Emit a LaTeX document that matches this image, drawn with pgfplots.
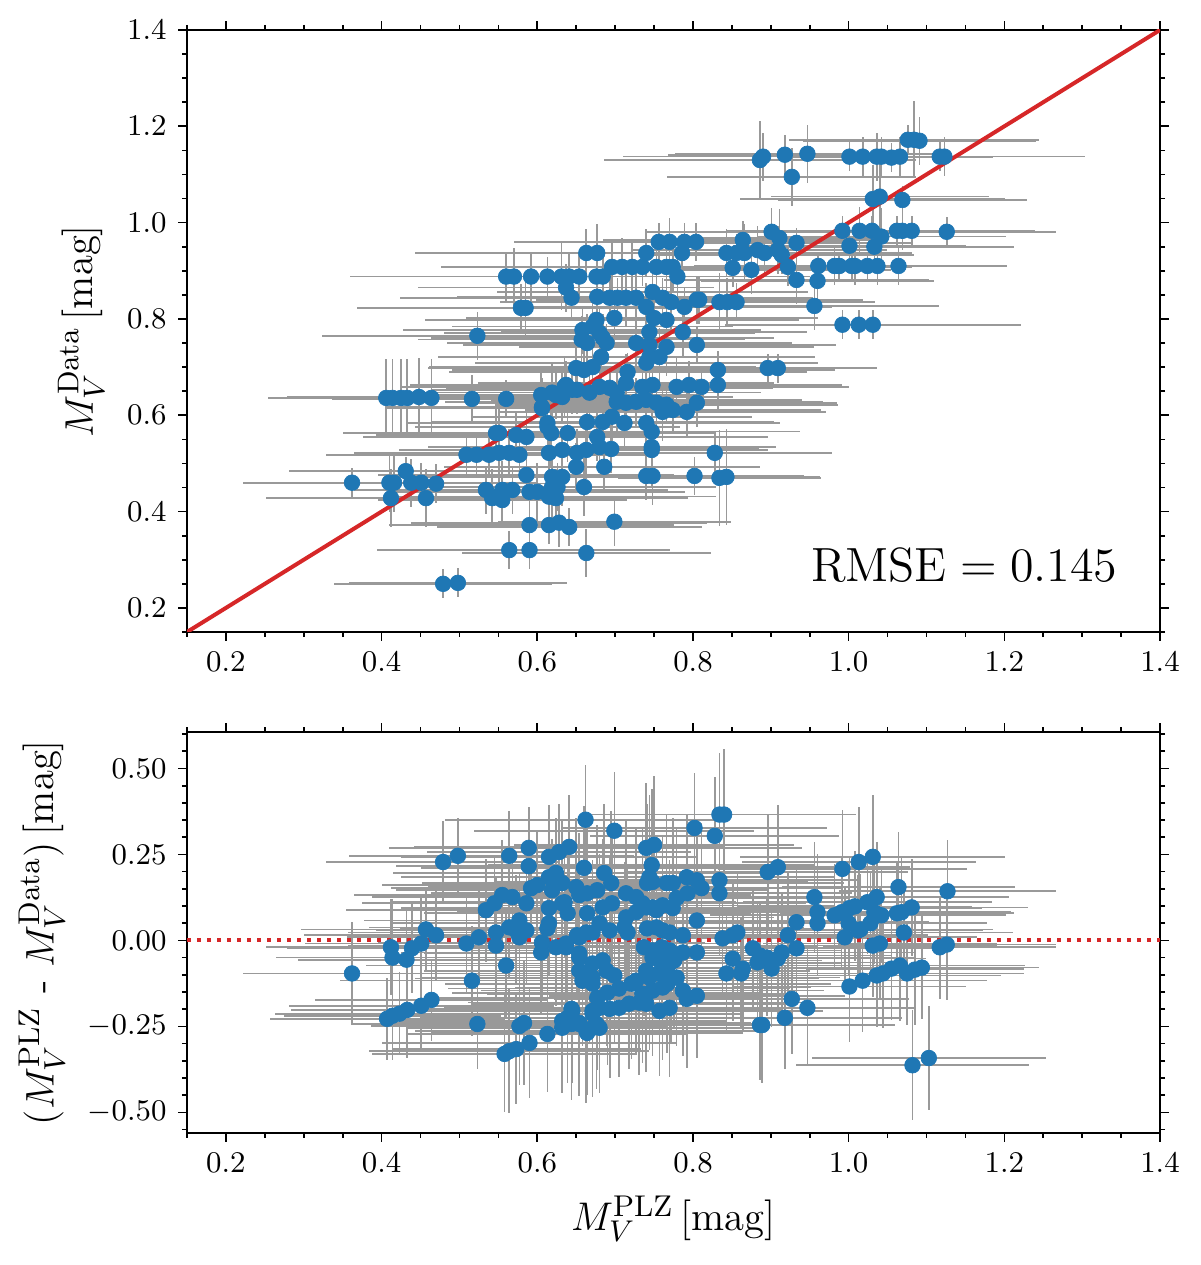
\documentclass[border=0pt]{standalone}
\usepackage{pgfplots}
\pgfplotsset{compat=1.18}
\usepackage{pgfplotstable}
\definecolor{mplblue}{HTML}{1F77B4}
\definecolor{mplred}{HTML}{D62728}
\definecolor{errgray}{HTML}{999999}

\pgfplotstableread{
x y ex ey
1.076 1.172 0.14 0.03
1.084 1.172 0.16 0.08
1.091 1.170 0.15 0.05
0.886 1.130 0.20 0.08
0.890 1.137 0.18 0.05
0.918 1.141 0.15 0.04
0.947 1.143 0.17 0.06
1.001 1.137 0.14 0.03
1.018 1.137 0.16 0.04
1.036 1.137 0.19 0.05
1.042 1.137 0.15 0.04
1.055 1.135 0.13 0.03
1.066 1.137 0.17 0.04
1.117 1.137 0.15 0.03
1.123 1.137 0.18 0.04
0.927 1.095 0.16 0.06
1.031 1.049 0.17 0.07
1.040 1.054 0.14 0.09
1.069 1.047 0.16 0.03
0.992 0.983 0.15 0.03
1.014 0.983 0.13 0.05
1.030 0.983 0.18 0.03
1.042 0.971 0.16 0.06
1.062 0.983 0.14 0.03
1.069 0.983 0.17 0.04
1.081 0.983 0.15 0.03
1.126 0.981 0.14 0.03
1.001 0.952 0.15 0.03
1.033 0.950 0.18 0.04
0.961 0.910 0.16 0.03
0.982 0.910 0.14 0.04
0.988 0.910 0.17 0.03
1.004 0.910 0.15 0.03
1.008 0.910 0.13 0.04
1.024 0.910 0.16 0.03
1.037 0.910 0.12 0.04
1.064 0.910 0.14 0.04
0.960 0.879 0.15 0.06
0.933 0.881 0.17 0.05
0.956 0.827 0.16 0.05
0.992 0.788 0.15 0.03
1.013 0.788 0.14 0.03
1.031 0.788 0.19 0.03
0.896 0.698 0.14 0.03
0.909 0.698 0.12 0.03
0.901 0.981 0.16 0.05
0.911 0.968 0.13 0.06
0.864 0.964 0.18 0.04
0.843 0.937 0.20 0.05
0.856 0.937 0.17 0.04
0.866 0.937 0.15 0.06
0.883 0.943 0.16 0.05
0.892 0.937 0.19 0.05
0.909 0.943 0.14 0.05
0.914 0.933 0.17 0.04
0.933 0.958 0.15 0.03
0.851 0.906 0.14 0.04
0.875 0.902 0.18 0.05
0.922 0.908 0.16 0.04
0.808 0.840 0.21 0.05
0.834 0.835 0.17 0.06
0.844 0.835 0.19 0.05
0.856 0.835 0.15 0.04
0.756 0.960 0.18 0.04
0.770 0.960 0.20 0.05
0.789 0.960 0.16 0.04
0.804 0.960 0.19 0.04
0.663 0.937 0.22 0.05
0.677 0.937 0.18 0.06
0.740 0.937 0.21 0.05
0.786 0.937 0.17 0.04
0.560 0.888 0.20 0.05
0.570 0.888 0.16 0.06
0.592 0.888 0.18 0.05
0.613 0.888 0.21 0.04
0.631 0.888 0.17 0.07
0.641 0.888 0.19 0.05
0.654 0.888 0.23 0.05
0.676 0.888 0.18 0.06
0.684 0.888 0.20 0.04
0.780 0.888 0.17 0.05
0.696 0.908 0.22 0.05
0.709 0.908 0.19 0.06
0.722 0.908 0.24 0.05
0.735 0.908 0.18 0.04
0.753 0.908 0.21 0.05
0.766 0.908 0.17 0.06
0.774 0.908 0.20 0.05
0.637 0.865 0.19 0.05
0.644 0.844 0.22 0.04
0.677 0.846 0.18 0.06
0.693 0.844 0.21 0.05
0.703 0.844 0.17 0.04
0.714 0.844 0.24 0.06
0.727 0.844 0.19 0.05
0.748 0.856 0.20 0.05
0.761 0.844 0.18 0.04
0.772 0.835 0.22 0.06
0.740 0.825 0.16 0.05
0.789 0.825 0.19 0.04
0.805 0.840 0.17 0.05
0.579 0.823 0.21 0.05
0.585 0.823 0.18 0.06
0.676 0.798 0.22 0.05
0.699 0.802 0.19 0.05
0.750 0.802 0.21 0.06
0.766 0.798 0.17 0.04
0.523 0.765 0.20 0.05
0.658 0.777 0.23 0.05
0.671 0.784 0.18 0.06
0.680 0.771 0.20 0.05
0.744 0.773 0.19 0.04
0.787 0.773 0.16 0.05
0.657 0.757 0.21 0.05
0.664 0.750 0.18 0.06
0.684 0.761 0.22 0.05
0.689 0.750 0.17 0.04
0.727 0.750 0.20 0.05
0.744 0.746 0.24 0.05
0.766 0.742 0.19 0.06
0.805 0.746 0.16 0.04
0.682 0.721 0.21 0.05
0.744 0.721 0.18 0.05
0.757 0.721 0.20 0.06
0.740 0.709 0.22 0.05
0.650 0.698 0.19 0.05
0.660 0.694 0.17 0.06
0.671 0.700 0.21 0.05
0.716 0.690 0.23 0.04
0.714 0.667 0.19 0.06
0.832 0.694 0.15 0.04
0.637 0.663 0.20 0.05
0.651 0.653 0.18 0.05
0.667 0.647 0.22 0.06
0.680 0.659 0.19 0.05
0.693 0.657 0.21 0.04
0.702 0.647 0.17 0.05
0.605 0.642 0.20 0.05
0.619 0.647 0.18 0.06
0.632 0.638 0.22 0.05
0.560 0.634 0.19 0.04
0.735 0.659 0.21 0.05
0.748 0.663 0.18 0.05
0.779 0.659 0.20 0.06
0.795 0.663 0.17 0.05
0.811 0.659 0.19 0.04
0.832 0.663 0.16 0.05
0.702 0.628 0.22 0.06
0.714 0.626 0.19 0.05
0.727 0.628 0.24 0.05
0.740 0.632 0.20 0.06
0.753 0.626 0.18 0.05
0.766 0.622 0.22 0.04
0.774 0.611 0.19 0.05
0.761 0.607 0.21 0.06
0.792 0.607 0.17 0.05
0.805 0.626 0.18 0.05
0.606 0.617 0.20 0.06
0.613 0.584 0.18 0.05
0.618 0.563 0.21 0.07
0.664 0.586 0.19 0.05
0.684 0.586 0.22 0.06
0.696 0.597 0.18 0.05
0.712 0.584 0.20 0.05
0.740 0.584 0.17 0.06
0.747 0.566 0.19 0.08
0.747 0.534 0.16 0.08
0.747 0.528 0.15 0.06
0.551 0.563 0.20 0.06
0.573 0.559 0.18 0.05
0.586 0.555 0.21 0.05
0.639 0.563 0.19 0.06
0.677 0.555 0.22 0.05
0.551 0.522 0.18 0.06
0.564 0.522 0.20 0.05
0.577 0.518 0.17 0.05
0.615 0.522 0.19 0.06
0.632 0.528 0.21 0.05
0.651 0.522 0.18 0.05
0.663 0.528 0.20 0.06
0.680 0.534 0.22 0.05
0.695 0.530 0.19 0.05
0.650 0.493 0.17 0.05
0.686 0.493 0.20 0.05
0.828 0.522 0.15 0.04
0.586 0.476 0.19 0.05
0.619 0.472 0.18 0.05
0.632 0.472 0.21 0.06
0.740 0.474 0.17 0.05
0.748 0.474 0.15 0.06
0.802 0.474 0.14 0.04
0.834 0.470 0.13 0.10
0.843 0.472 0.12 0.10
0.555 0.445 0.18 0.06
0.568 0.445 0.20 0.05
0.590 0.441 0.17 0.05
0.600 0.441 0.19 0.06
0.619 0.431 0.21 0.05
0.626 0.451 0.18 0.05
0.660 0.451 0.17 0.06
0.590 0.372 0.18 0.04
0.615 0.372 0.16 0.04
0.628 0.377 0.19 0.05
0.641 0.368 0.17 0.04
0.699 0.379 0.15 0.05
0.564 0.320 0.17 0.04
0.590 0.320 0.18 0.04
0.663 0.314 0.16 0.05
0.406 0.636 0.15 0.08
0.414 0.636 0.16 0.08
0.425 0.636 0.14 0.08
0.433 0.636 0.15 0.08
0.448 0.638 0.17 0.08
0.464 0.636 0.15 0.08
0.516 0.634 0.18 0.05
0.624 0.642 0.19 0.05
0.635 0.659 0.21 0.06
0.645 0.653 0.18 0.05
0.606 0.615 0.20 0.06
0.547 0.563 0.19 0.05
0.613 0.576 0.17 0.06
0.509 0.518 0.18 0.04
0.522 0.518 0.16 0.04
0.538 0.518 0.19 0.04
0.431 0.484 0.15 0.03
0.362 0.460 0.14 0.03
0.410 0.460 0.15 0.06
0.416 0.460 0.14 0.06
0.438 0.460 0.16 0.05
0.451 0.460 0.15 0.04
0.470 0.458 0.14 0.04
0.412 0.428 0.16 0.06
0.457 0.428 0.15 0.06
0.534 0.445 0.17 0.05
0.542 0.428 0.18 0.06
0.555 0.424 0.16 0.05
0.615 0.431 0.19 0.05
0.624 0.428 0.17 0.06
0.619 0.451 0.18 0.05
0.479 0.250 0.14 0.03
0.498 0.252 0.14 0.03
}\topdata

\pgfplotstableread{
x y ex ey
0.362 -0.096 0.14 0.15
0.407 -0.228 0.15 0.12
0.414 -0.219 0.14 0.13
0.423 -0.213 0.16 0.12
0.433 -0.202 0.15 0.14
0.451 -0.190 0.17 0.13
0.464 -0.173 0.15 0.12
0.412 -0.020 0.16 0.14
0.414 -0.050 0.15 0.17
0.432 -0.056 0.14 0.15
0.439 -0.023 0.16 0.13
0.451 -0.009 0.15 0.14
0.457 0.032 0.16 0.12
0.470 0.015 0.17 0.13
0.479 0.228 0.15 0.12
0.498 0.246 0.14 0.11
0.509 -0.009 0.18 0.14
0.547 -0.015 0.19 0.15
0.516 -0.117 0.17 0.16
0.523 -0.243 0.16 0.13
0.534 0.088 0.18 0.15
0.545 0.108 0.17 0.14
0.555 0.132 0.19 0.16
0.568 0.126 0.18 0.15
0.525 0.009 0.17 0.14
0.547 0.023 0.19 0.16
0.564 0.038 0.18 0.15
0.577 0.058 0.20 0.14
0.586 0.029 0.19 0.16
0.560 -0.073 0.18 0.15
0.564 0.246 0.16 0.13
0.589 0.269 0.18 0.12
0.589 0.216 0.17 0.13
0.586 0.108 0.19 0.15
0.592 0.152 0.18 0.14
0.600 0.161 0.20 0.16
0.615 0.243 0.19 0.15
0.628 0.257 0.17 0.14
0.641 0.272 0.20 0.15
0.615 0.184 0.19 0.17
0.624 0.196 0.21 0.16
0.632 0.167 0.18 0.18
0.619 0.146 0.20 0.15
0.615 0.094 0.19 0.17
0.635 0.111 0.22 0.16
0.639 0.079 0.18 0.18
0.615 0.050 0.20 0.15
0.613 0.035 0.19 0.17
0.606 -0.006 0.21 0.16
0.605 -0.035 0.18 0.18
0.624 -0.020 0.20 0.17
0.637 -0.020 0.22 0.16
0.577 0.009 0.19 0.15
0.573 0.029 0.18 0.16
0.651 0.015 0.21 0.18
0.663 0.023 0.19 0.17
0.654 -0.038 0.20 0.19
0.660 0.211 0.21 0.18
0.650 0.155 0.19 0.20
0.654 0.132 0.22 0.18
0.664 0.137 0.20 0.19
0.664 0.079 0.21 0.17
0.662 0.351 0.18 0.16
0.654 -0.088 0.20 0.19
0.663 -0.111 0.22 0.18
0.671 -0.126 0.19 0.20
0.658 -0.117 0.21 0.19
0.613 -0.272 0.18 0.17
0.590 -0.298 0.19 0.16
0.558 -0.330 0.17 0.17
0.564 -0.322 0.18 0.18
0.573 -0.316 0.16 0.16
0.577 -0.249 0.19 0.17
0.583 -0.240 0.18 0.18
0.632 -0.254 0.20 0.19
0.644 -0.199 0.21 0.20
0.639 -0.225 0.19 0.19
0.654 -0.240 0.22 0.20
0.664 -0.269 0.20 0.18
0.676 -0.243 0.21 0.19
0.671 -0.213 0.19 0.20
0.699 0.319 0.18 0.17
0.802 0.327 0.17 0.16
0.828 0.304 0.16 0.17
0.834 0.366 0.15 0.18
0.840 0.366 0.17 0.19
0.740 0.269 0.20 0.19
0.750 0.278 0.18 0.20
0.747 0.219 0.21 0.22
0.744 0.184 0.19 0.24
0.741 0.167 0.22 0.23
0.748 0.170 0.20 0.25
0.686 0.196 0.21 0.20
0.695 0.167 0.19 0.21
0.677 0.146 0.22 0.19
0.714 0.137 0.20 0.21
0.727 0.126 0.23 0.20
0.735 0.108 0.21 0.22
0.748 0.096 0.19 0.21
0.766 0.167 0.20 0.20
0.774 0.167 0.22 0.19
0.792 0.184 0.19 0.18
0.805 0.175 0.21 0.17
0.811 0.152 0.18 0.19
0.793 0.137 0.20 0.18
0.779 0.123 0.22 0.20
0.834 0.175 0.18 0.17
0.834 0.137 0.17 0.18
0.805 0.058 0.19 0.17
0.632 0.108 0.21 0.18
0.684 0.096 0.20 0.20
0.696 0.108 0.22 0.19
0.714 0.067 0.19 0.21
0.727 0.082 0.23 0.20
0.740 0.096 0.21 0.22
0.753 0.088 0.20 0.21
0.761 0.102 0.22 0.20
0.774 0.094 0.19 0.19
0.680 0.050 0.21 0.20
0.693 0.029 0.20 0.21
0.712 0.038 0.22 0.19
0.716 0.023 0.19 0.20
0.671 0.023 0.21 0.21
0.654 0.009 0.20 0.19
0.637 -0.009 0.22 0.20
0.741 0.035 0.21 0.21
0.753 0.038 0.19 0.20
0.761 0.029 0.22 0.19
0.770 0.023 0.20 0.21
0.787 0.015 0.18 0.19
0.737 -0.020 0.21 0.20
0.748 -0.029 0.23 0.21
0.760 -0.020 0.20 0.19
0.770 -0.029 0.22 0.20
0.787 -0.035 0.19 0.18
0.805 -0.035 0.18 0.19
0.748 -0.050 0.21 0.21
0.757 -0.058 0.20 0.20
0.770 -0.067 0.22 0.19
0.776 -0.058 0.19 0.20
0.761 -0.079 0.21 0.22
0.654 -0.050 0.20 0.20
0.671 -0.067 0.22 0.21
0.684 -0.058 0.19 0.19
0.689 -0.088 0.21 0.22
0.667 -0.096 0.20 0.20
0.671 -0.108 0.22 0.21
0.699 -0.102 0.19 0.20
0.740 -0.088 0.21 0.19
0.744 -0.108 0.20 0.21
0.757 -0.096 0.22 0.20
0.772 -0.111 0.19 0.19
0.779 -0.108 0.21 0.20
0.690 -0.152 0.20 0.21
0.705 -0.140 0.22 0.20
0.721 -0.126 0.19 0.22
0.727 -0.117 0.21 0.21
0.735 -0.155 0.20 0.20
0.748 -0.146 0.22 0.19
0.761 -0.137 0.19 0.21
0.767 -0.126 0.21 0.20
0.787 -0.146 0.18 0.19
0.792 -0.170 0.17 0.20
0.805 -0.161 0.19 0.18
0.677 -0.167 0.21 0.21
0.680 -0.196 0.20 0.22
0.693 -0.199 0.22 0.20
0.671 -0.205 0.19 0.21
0.705 -0.196 0.21 0.20
0.718 -0.184 0.20 0.19
0.731 -0.181 0.22 0.21
0.740 -0.184 0.19 0.20
0.757 -0.205 0.21 0.19
0.770 -0.196 0.20 0.20
0.645 -0.205 0.19 0.21
0.632 -0.234 0.21 0.20
0.644 -0.243 0.20 0.22
0.663 -0.263 0.22 0.21
0.671 -0.254 0.19 0.20
0.680 -0.254 0.21 0.19
0.654 -0.243 0.20 0.21
0.838 0.006 0.19 0.17
0.851 0.015 0.18 0.16
0.857 0.023 0.20 0.18
0.877 -0.023 0.19 0.17
0.886 -0.044 0.17 0.16
0.883 -0.064 0.18 0.18
0.895 -0.050 0.19 0.17
0.851 -0.053 0.20 0.18
0.843 -0.096 0.18 0.17
0.862 -0.096 0.19 0.16
0.864 -0.082 0.17 0.18
0.901 -0.082 0.18 0.17
0.909 -0.053 0.19 0.16
0.914 -0.035 0.17 0.17
0.922 0.015 0.18 0.18
0.933 -0.023 0.19 0.16
0.933 0.053 0.17 0.17
0.956 0.126 0.16 0.16
0.960 0.082 0.18 0.17
0.960 0.050 0.17 0.15
0.896 0.199 0.18 0.17
0.909 0.213 0.17 0.18
0.992 0.208 0.16 0.17
1.013 0.228 0.15 0.16
1.031 0.243 0.17 0.18
0.982 0.073 0.16 0.15
0.991 0.082 0.18 0.16
1.001 0.094 0.17 0.15
1.008 0.099 0.15 0.16
0.995 0.009 0.17 0.15
1.012 0.029 0.16 0.16
0.927 -0.170 0.15 0.16
0.947 -0.196 0.14 0.17
0.918 -0.225 0.15 0.15
0.886 -0.246 0.16 0.16
0.889 -0.246 0.17 0.17
1.001 -0.134 0.15 0.16
1.018 -0.117 0.16 0.15
1.064 0.155 0.15 0.16
1.127 0.143 0.14 0.15
1.024 0.111 0.16 0.15
1.036 0.126 0.17 0.16
1.033 0.082 0.15 0.15
1.042 0.073 0.16 0.14
1.062 0.079 0.15 0.15
1.068 0.082 0.14 0.16
1.081 0.096 0.15 0.14
1.000 0.050 0.16 0.15
1.015 0.032 0.17 0.16
1.028 0.050 0.15 0.15
1.071 0.023 0.14 0.14
1.031 -0.015 0.16 0.15
1.040 -0.009 0.15 0.16
1.117 -0.020 0.15 0.15
1.126 -0.012 0.14 0.16
1.036 -0.102 0.16 0.15
1.044 -0.096 0.15 0.16
1.055 -0.082 0.17 0.15
1.066 -0.073 0.16 0.16
1.075 -0.096 0.15 0.15
1.085 -0.085 0.14 0.16
1.094 -0.079 0.15 0.15
1.082 -0.363 0.15 0.16
1.103 -0.342 0.15 0.15
}\botdata

\pgfplotsset{
  panel/.style={
    scale only axis,
    width=291.9pt,
    xmin=0.15, xmax=1.4,
    xtick={0.2,0.4,0.6,0.8,1.0,1.2,1.4},
    minor xtick={0.15,0.25,0.3,0.35,0.45,0.5,0.55,0.65,0.7,0.75,0.85,0.9,0.95,1.05,1.1,1.15,1.25,1.3,1.35},
    tick align=outside,
    major tick length=2.6pt,
    minor tick length=1.5pt,
    tick style={black, line width=0.5pt},
    axis line style={line width=0.6pt},
    ticklabel style={font=\fontsize{9.4}{11}\selectfont},
    label style={font=\fontsize{12.2}{14}\selectfont},
    xticklabel style={/pgf/number format/.cd, fixed, fixed zerofill, precision=1},
    clip=true,
  },
  errs/.style={
    only marks, mark=none,
    error bars/.cd,
      x dir=both, x explicit,
      y dir=both, y explicit,
      error mark=none,
      error bar style={draw=errgray, line width=0.5pt},
  },
  dots/.style={
    only marks, mark=*, mark size=2.35pt,
    mark options={draw=mplblue, fill=mplblue, line width=0.2pt},
  },
}

\begin{document}
\begin{tikzpicture}
\begin{axis}[panel,
  at={(56.1pt,189.9pt)}, anchor=south west,
  height=180.6pt,
  ymin=0.15, ymax=1.4,
  ytick={0.2,0.4,0.6,0.8,1.0,1.2,1.4},
  minor ytick={0.15,0.25,0.3,0.35,0.45,0.5,0.55,0.65,0.7,0.75,0.85,0.9,0.95,1.05,1.1,1.15,1.25,1.3,1.35},
  yticklabel style={/pgf/number format/.cd, fixed, fixed zerofill, precision=1},
  ylabel={$M_V^{\mathrm{Data}}$\,[mag]},
]
\addplot+[errs] table[x=x, y=y, x error=ex, y error=ey] {\topdata};
\addplot[dots] table[x=x, y=y] {\topdata};
\addplot[mplred, line width=1.2pt] coordinates {(0.15,0.15) (1.4,1.4)};
\node[anchor=east, inner sep=0pt, font=\fontsize{13.3}{16}\selectfont] at (axis cs:1.346,0.289) {$\mathrm{RMSE} = 0.145$};
\end{axis}

\begin{axis}[panel,
  at={(56.1pt,39.6pt)}, anchor=south west,
  height=120.3pt,
  ymin=-0.56, ymax=0.606,
  ytick={-0.5,-0.25,0,0.25,0.5},
  minor ytick={-0.55,-0.45,-0.4,-0.35,-0.3,-0.2,-0.15,-0.1,-0.05,0.05,0.1,0.15,0.2,0.3,0.35,0.4,0.45,0.55,0.6},
  yticklabel style={/pgf/number format/.cd, fixed, fixed zerofill, precision=2},
  xlabel={$M_V^{\mathrm{PLZ}}$\,[mag]},
  ylabel={$(M_V^{\mathrm{PLZ}}$ - $M_V^{\mathrm{Data}})$\,[mag]},
]
\addplot+[errs] table[x=x, y=y, x error=ex, y error=ey] {\botdata};
\addplot[dots] table[x=x, y=y] {\botdata};
\addplot[mplred, line width=1.2pt, dash pattern=on 1.2pt off 1.8pt] coordinates {(0.15,0) (1.4,0)};
\end{axis}
\pgfresetboundingbox
\path[use as bounding box] (0,0) rectangle (360pt,379.5pt);
\end{tikzpicture}
\end{document}
